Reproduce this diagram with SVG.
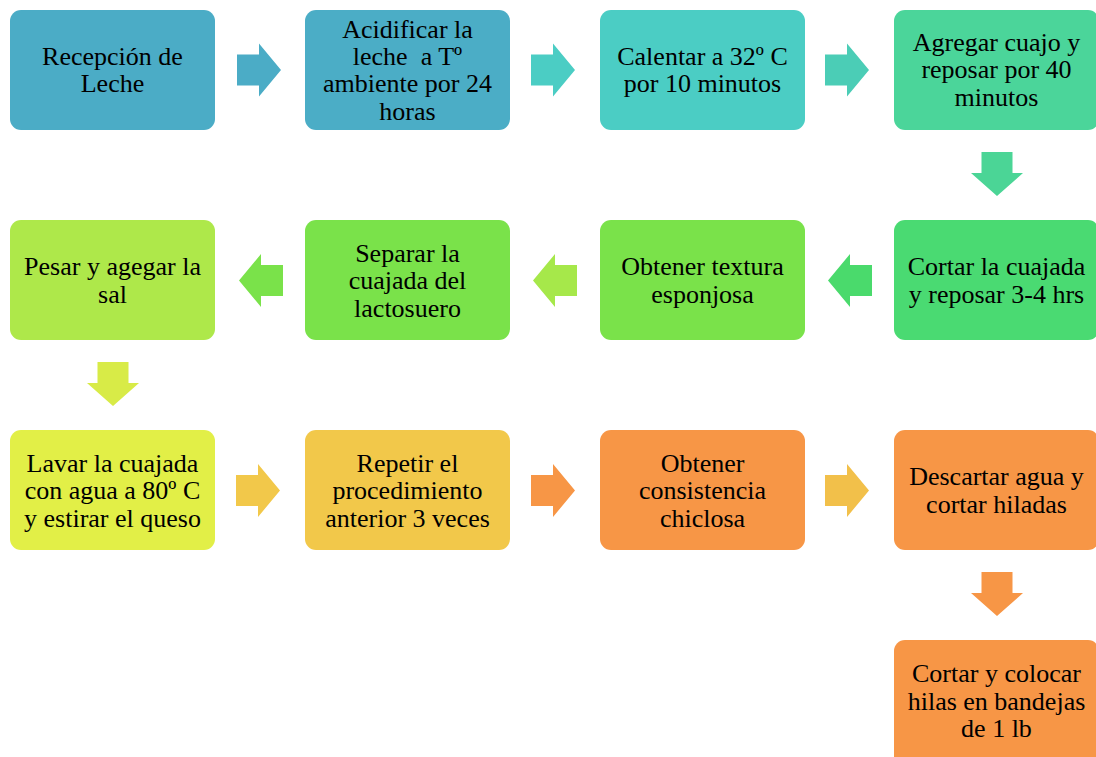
<svg xmlns="http://www.w3.org/2000/svg" width="1096" height="757" viewBox="0 0 1096 757">
  <style>
    .box { stroke: none; }
    .lbl { font-family: "Liberation Serif", "Times New Roman", serif; font-size: 26px; fill: #000; text-anchor: middle; }
  </style>
  <defs>
    <!-- block arrows: 44 long, 53 wide head, 31 wide shaft -->
    <path id="arR" d="M0,-15.5 H22 V-26.5 L44,0 L22,26.5 V15.5 H0 Z"/>
    <path id="arL" d="M44,-15.5 H22 V-26.5 L0,0 L22,26.5 V15.5 H44 Z"/>
    <path id="arD" d="M-15.5,0 V21 H-26 L0,44 L26,21 H15.5 V0 Z"/>
  </defs>
  <rect width="1096" height="757" fill="#fff"/>

  <g id="connectors">
    <use href="#arR" x="237" y="70" fill="#4BACC6"/>
    <use href="#arR" x="531" y="70" fill="#4BCDC4"/>
    <use href="#arR" x="825" y="70" fill="#4BCDB6"/>
    <use href="#arD" x="997" y="152" fill="#4BD596"/>
    <use href="#arL" x="828" y="280.5" fill="#4ADA6C"/>
    <use href="#arL" x="533" y="280.5" fill="#A6E84A"/>
    <use href="#arL" x="239" y="280.5" fill="#7AE24A"/>
    <use href="#arD" x="113" y="362" fill="#D8EB47"/>
    <use href="#arR" x="236" y="490.5" fill="#F2C84A"/>
    <use href="#arR" x="531" y="490.5" fill="#F79646"/>
    <use href="#arR" x="825" y="490.5" fill="#F2C04A"/>
    <use href="#arD" x="997" y="572" fill="#F79646"/>
  </g>

  <g id="n1">
    <rect class="box" x="10" y="10" width="205" height="120" rx="11" fill="#4BACC6"/>
    <text class="lbl" x="112.5" y="64.5">Recepción de</text>
    <text class="lbl" x="112.5" y="92">Leche</text>
  </g>
  <g id="n2">
    <rect class="box" x="305" y="10" width="205" height="120" rx="11" fill="#4BADC6"/>
    <text class="lbl" x="407.5" y="37.5">Acidificar la</text>
    <text class="lbl" x="407.5" y="64.5" xml:space="preserve">leche  a Tº</text>
    <text class="lbl" x="407.5" y="92">ambiente por 24</text>
    <text class="lbl" x="407.5" y="119.5">horas</text>
  </g>
  <g id="n3">
    <rect class="box" x="600" y="10" width="205" height="120" rx="11" fill="#4BCDC4"/>
    <text class="lbl" x="702.5" y="64.5">Calentar a 32º C</text>
    <text class="lbl" x="702.5" y="92">por 10 minutos</text>
  </g>
  <g id="n4">
    <rect class="box" x="894" y="10" width="205" height="120" rx="11" fill="#4BD59A"/>
    <text class="lbl" x="996.5" y="50.5">Agregar cuajo y</text>
    <text class="lbl" x="996.5" y="78">reposar por 40</text>
    <text class="lbl" x="996.5" y="105.5">minutos</text>
  </g>

  <g id="n5">
    <rect class="box" x="894" y="220" width="205" height="120" rx="11" fill="#4ADA72"/>
    <text class="lbl" x="996.5" y="275">Cortar la cuajada</text>
    <text class="lbl" x="996.5" y="302.5">y reposar 3-4 hrs</text>
  </g>
  <g id="n6">
    <rect class="box" x="600" y="220" width="205" height="120" rx="11" fill="#7AE24A"/>
    <text class="lbl" x="702.5" y="275">Obtener textura</text>
    <text class="lbl" x="702.5" y="302.5">esponjosa</text>
  </g>
  <g id="n7">
    <rect class="box" x="305" y="220" width="205" height="120" rx="11" fill="#7AE24A"/>
    <text class="lbl" x="407.5" y="261.5">Separar la</text>
    <text class="lbl" x="407.5" y="289">cuajada del</text>
    <text class="lbl" x="407.5" y="316.5">lactosuero</text>
  </g>
  <g id="n8">
    <rect class="box" x="10" y="220" width="205" height="120" rx="11" fill="#AEE84A"/>
    <text class="lbl" x="112.5" y="275">Pesar y agegar la</text>
    <text class="lbl" x="112.5" y="302.5">sal</text>
  </g>

  <g id="n9">
    <rect class="box" x="10" y="430" width="205" height="120" rx="11" fill="#E2EF47"/>
    <text class="lbl" x="112.5" y="471.5">Lavar la cuajada</text>
    <text class="lbl" x="112.5" y="499">con agua a 80º C</text>
    <text class="lbl" x="112.5" y="526.5">y estirar el queso</text>
  </g>
  <g id="n10">
    <rect class="box" x="305" y="430" width="205" height="120" rx="11" fill="#F2C84A"/>
    <text class="lbl" x="407.5" y="471.5">Repetir el</text>
    <text class="lbl" x="407.5" y="499">procedimiento</text>
    <text class="lbl" x="407.5" y="526.5">anterior 3 veces</text>
  </g>
  <g id="n11">
    <rect class="box" x="600" y="430" width="205" height="120" rx="11" fill="#F79646"/>
    <text class="lbl" x="702.5" y="471.5">Obtener</text>
    <text class="lbl" x="702.5" y="499">consistencia</text>
    <text class="lbl" x="702.5" y="526.5">chiclosa</text>
  </g>
  <g id="n12">
    <rect class="box" x="894" y="430" width="205" height="120" rx="11" fill="#F79646"/>
    <text class="lbl" x="996.5" y="485">Descartar agua y</text>
    <text class="lbl" x="996.5" y="512.5">cortar hiladas</text>
  </g>

  <g id="n13">
    <rect class="box" x="894" y="640" width="205" height="130" rx="11" fill="#F79646"/>
    <text class="lbl" x="996.5" y="682">Cortar y colocar</text>
    <text class="lbl" x="996.5" y="709.5">hilas en bandejas</text>
    <text class="lbl" x="996.5" y="737">de 1 lb</text>
  </g>
</svg>
